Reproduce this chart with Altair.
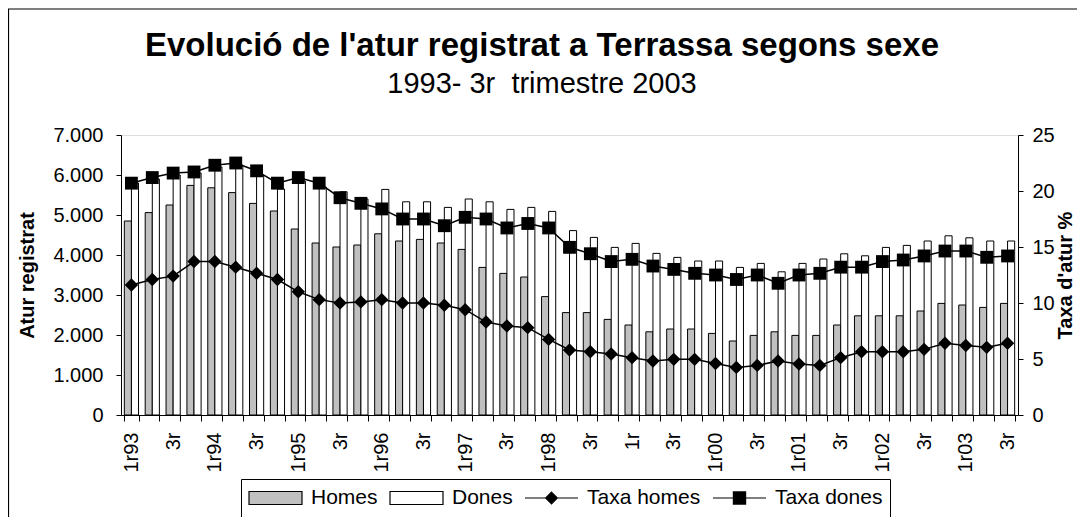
import json
import altair as alt
import pandas as pd

FONT = "Liberation Sans"

quarters = [
    "1r93", "2r93", "3r93", "4r93", "1r94", "2r94", "3r94", "4r94",
    "1r95", "2r95", "3r95", "4r95", "1r96", "2r96", "3r96", "4r96",
    "1r97", "2r97", "3r97", "4r97", "1r98", "2r98", "3r98", "4r98",
    "1r99", "2r99", "3r99", "4r99", "1r00", "2r00", "3r00", "4r00",
    "1r01", "2r01", "3r01", "4r01", "1r02", "2r02", "3r02", "4r02",
    "1r03", "2r03", "3r03",
]
tick_labels = [
    "1r93", "", "3r", "", "1r94", "", "3r", "", "1r95", "", "3r", "",
    "1r96", "", "3r", "", "1r97", "", "3r", "", "1r98", "", "3r", "",
    "1r", "", "3r", "", "1r00", "", "3r", "", "1r01", "", "3r", "",
    "1r02", "", "3r", "", "1r03", "", "3r",
]
homes = [
    4850, 5060, 5250, 5740, 5680, 5560, 5290, 5100, 4650, 4300, 4200,
    4250, 4530, 4350, 4390, 4300, 4140, 3690, 3540, 3450, 2960,
    2560, 2560, 2390, 2250, 2080, 2150, 2150, 2040, 1850, 1990, 2080,
    1990, 1990, 2250, 2480, 2480, 2480, 2600, 2790, 2750, 2690, 2790,
]
dones = [
    5800, 5900, 6000, 6050, 6200, 6250, 6000, 5650, 5850, 5700, 5580,
    5400, 5640, 5330, 5330, 5190, 5400, 5330, 5140, 5190, 5090,
    4610, 4440, 4190, 4290, 4040, 3940, 3850, 3850, 3690, 3790, 3580,
    3790, 3900, 4030, 3980, 4190, 4240, 4350, 4480, 4430, 4350, 4350,
]
taxa_homes = [
    11.6, 12.1, 12.4, 13.7, 13.7, 13.2, 12.65, 12.1, 11.0, 10.3, 10.0,
    10.1, 10.3, 10.0, 10.0, 9.8, 9.4, 8.3, 7.95, 7.8, 6.75,
    5.8, 5.65, 5.45, 5.12, 4.82, 4.97, 4.97, 4.6, 4.25, 4.43, 4.82,
    4.55, 4.43, 5.12, 5.65, 5.65, 5.65, 5.86, 6.4, 6.2, 6.04, 6.4,
]
taxa_dones = [
    20.7, 21.2, 21.6, 21.7, 22.3, 22.5, 21.8, 20.7, 21.2, 20.7, 19.4,
    18.9, 18.4, 17.5, 17.5, 16.9, 17.65, 17.5, 16.7, 17.1, 16.7,
    14.97, 14.4, 13.7, 13.9, 13.3, 13.0, 12.65, 12.5, 12.1, 12.5, 11.76,
    12.5, 12.65, 13.2, 13.2, 13.7, 13.84, 14.2, 14.64, 14.64, 14.08, 14.2,
]
series_names = ["Homes", "Dones", "Taxa homes", "Taxa dones"]
series_colors = ["#c0c0c0", "#ffffff", "#000000", "#000000"]
title_text = "Evolució de l'atur registrat a Terrassa segons sexe"
subtitle_text = "1993- 3r\u00a0 trimestre 2003"

bar_df = pd.DataFrame({
    "quarter": quarters * 2,
    "series": ["Homes"] * len(quarters) + ["Dones"] * len(quarters),
    "value": homes + dones,
})
rate_df = pd.DataFrame({
    "quarter": quarters * 2,
    "series": ["Taxa homes"] * len(quarters) + ["Taxa dones"] * len(quarters),
    "pct": taxa_homes + taxa_dones,
})
one_row = pd.DataFrame({"k": [0]})

label_expr = f"{json.dumps(tick_labels)}[indexof({json.dumps(quarters)}, datum.value)]"

shape_expr = (
    "datum.value === 'Homes' || datum.value === 'Dones' ? 'M-1,-0.245H1V0.245H-1Z' : "
    "datum.value === 'Taxa homes' ? 'M-1,0H1M0,-0.22L0.22,0L0,0.22L-0.22,0Z' : "
    "'M-1,0H1M-0.23,-0.23H0.23V0.23H-0.23Z'"
)

x_enc = alt.X(
    "quarter:N", sort=quarters,
    scale=alt.Scale(paddingInner=0.32, paddingOuter=0.16),
    axis=alt.Axis(
        title=None, labelExpr=label_expr, labelAngle=270, labelFontSize=20,
        labelFont=FONT, labelColor="black", tickBand="extent", tickSize=6,
        tickColor="black", domainColor="black", labelPadding=11,
    ),
)

bars = alt.Chart(bar_df).mark_bar(stroke="black", strokeWidth=1).encode(
    x=x_enc,
    xOffset=alt.XOffset("series:N", sort=["Homes", "Dones"]),
    y=alt.Y(
        "value:Q", scale=alt.Scale(domain=[0, 7000], nice=False),
        axis=alt.Axis(
            orient="left", values=list(range(0, 7001, 1000)), grid=False,
            labelExpr="replace(format(datum.value, ','), ',', '.')",
            title="Atur registrat", titleFontSize=20, titleFontWeight="bold",
            titleFont=FONT, titleColor="black", labelFont=FONT, labelFontSize=20,
            labelColor="black", tickColor="black", domainColor="black",
            tickSize=5, labelPadding=13, titlePadding=15,
        ),
    ),
    fill=alt.Fill(
        "series:N",
        scale=alt.Scale(domain=series_names, range=series_colors),
        legend=alt.Legend(
            orient="none", direction="horizontal", legendX=120, legendY=344,
            title=None, labelFont=FONT, labelFontSize=21, labelColor="black",
            strokeColor="black", fillColor="white", padding=7,
            symbolSize=2809, clipHeight=24, labelOffset=8, columnPadding=11,
            symbolStrokeColor="black", symbolStrokeWidth=1.2, symbolOpacity=1,
            symbolType={"expr": shape_expr},
        ),
    ),
)

y_rate = alt.Y(
    "pct:Q", scale=alt.Scale(domain=[0, 25], nice=False),
    axis=alt.Axis(
        orient="right", values=[0, 5, 10, 15, 20, 25], grid=False,
        title="Taxa d'atur %", titleAngle=270, titleBaseline="top",
        titleFontSize=20, titleFontWeight="bold", titleFont=FONT,
        titleColor="black", labelFont=FONT, labelFontSize=20,
        labelColor="black", tickColor="black", domainColor="black",
        tickSize=5, labelPadding=9, titlePadding=1,
    ),
)

lines = alt.Chart(rate_df).mark_line(color="black", strokeWidth=1.5).encode(
    x=alt.X("quarter:N", sort=quarters),
    y=y_rate,
    detail="series:N",
)
points = alt.Chart(rate_df).mark_point(filled=True, color="black", opacity=1).encode(
    x=alt.X("quarter:N", sort=quarters),
    y=alt.Y("pct:Q"),
    shape=alt.Shape("series:N", scale=alt.Scale(domain=["Taxa homes", "Taxa dones"],
                                                range=["diamond", "square"]), legend=None),
    size=alt.Size("series:N", scale=alt.Scale(domain=["Taxa homes", "Taxa dones"],
                                              range=[180, 165]), legend=None),
)

frame = alt.Chart(one_row).mark_rect(
    fillOpacity=0, stroke="black", strokeWidth=1.2
).encode(
    x=alt.value(-112.5), x2=alt.value(990), y=alt.value(-126), y2=alt.value(420),
)

title_mark = alt.Chart(one_row).mark_text(
    font=FONT, fontSize=33, fontWeight="bold", color="black",
    align="center", baseline="alphabetic",
).encode(x=alt.value(421), y=alt.value(-79), text=alt.value(title_text))

subtitle_mark = alt.Chart(one_row).mark_text(
    font=FONT, fontSize=29, color="black",
    align="center", baseline="alphabetic",
).encode(x=alt.value(421), y=alt.value(-42), text=alt.value(subtitle_text))

chart = alt.layer(
    bars, alt.layer(lines, points), frame, title_mark, subtitle_mark
).resolve_scale(
    y="independent", shape="independent", size="independent"
).properties(
    width=897, height=280,
    autosize=alt.AutoSizeParams(type="none"),
    padding={"left": 113, "top": 127, "right": 59, "bottom": 102},
).configure_view(
    stroke="#808080", strokeWidth=1
).configure(background="white")

chart.save("out.html", embed_options={"renderer": "svg", "actions": False})
